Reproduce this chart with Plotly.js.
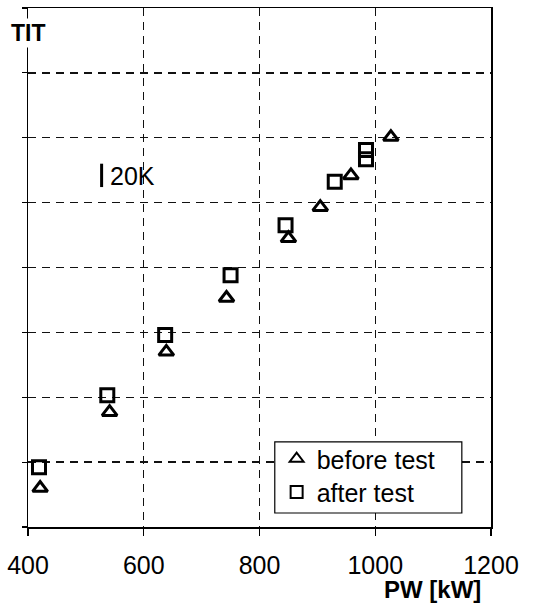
<!DOCTYPE html>
<html>
<head>
<meta charset="utf-8">
<script src="https://cdn.plot.ly/plotly-3.0.1.min.js"></script>
<style>html,body{margin:0;padding:0;background:#fff;}#chart{width:534px;height:603px;}</style>
</head>
<body>
<div id="chart"></div>
<script>
// PW [kW] and TIT (in gridline units; 20K scale bar shown)
const beforeX = [421, 541, 639, 743, 850, 905, 958, 1027];
const beforeY = [0.60, 1.77, 2.70, 3.53, 4.45, 4.93, 5.42, 6.01];
const afterX = [419, 537, 637, 750, 845, 930, 984, 984];
const afterY = [0.92, 2.03, 2.96, 3.88, 4.65, 5.32, 5.81, 5.67];
const xTicks = [400, 600, 800, 1000, 1200];
const yTicks = [0, 1, 2, 3, 4, 5, 6, 7, 8];

const FONT = '"Liberation Sans", Arial, Helvetica, sans-serif';

const traces = [
  {
    x: beforeX, y: beforeY, mode: 'markers', type: 'scatter', name: 'before test', legend: 'legend',
    marker: {symbol: 'triangle-up-open', size: 13, color: '#000', line: {width: 3, color: '#000'}}
  },
  {
    x: afterX, y: afterY, mode: 'markers', type: 'scatter', name: 'after test', legend: 'legend2',
    marker: {symbol: 'square-open', size: 13, color: '#000', line: {width: 3, color: '#000'}}
  }
];

const legendCommon = {
  xanchor: 'left', yanchor: 'middle',
  bgcolor: 'rgba(0,0,0,0)', borderwidth: 0,
  font: {family: FONT, size: 25, color: '#000'},
  itemsizing: 'constant', itemwidth: 30
};

const layout = {
  width: 534, height: 603,
  margin: {l: 28, r: 43, t: 8, b: 76},
  paper_bgcolor: '#fff', plot_bgcolor: '#fff',
  font: {family: FONT, color: '#000', size: 22},
  showlegend: true,
  legend: Object.assign({x: 0.537, y: 0.131}, legendCommon),
  legend2: Object.assign({x: 0.537, y: 0.067}, legendCommon),
  xaxis: {
    range: [400, 1200], tickvals: xTicks, ticktext: xTicks.map(String),
    showgrid: true, gridcolor: '#111', griddash: '8px,6px', gridwidth: 1.4,
    showline: true, linecolor: '#000', linewidth: 1.5, mirror: true,
    ticks: 'outside', ticklen: 7, tickcolor: '#000', tickwidth: 1.2,
    ticklabelstandoff: 8,
    tickfont: {family: FONT, size: 25, color: '#000'},
    zeroline: false, fixedrange: true
  },
  yaxis: {
    range: [0, 8], tickvals: yTicks, showticklabels: false,
    showgrid: true, gridcolor: '#111', griddash: '8px,6px', gridwidth: 1.4,
    showline: true, linecolor: '#000', linewidth: 1.5, mirror: true,
    ticks: 'outside', ticklen: 5, tickcolor: '#000', tickwidth: 1.2,
    zeroline: false, fixedrange: true
  },
  shapes: [
    {type: 'line', xref: 'paper', yref: 'paper', x0: 0.159, x1: 0.159, y0: 0.655, y1: 0.70,
     line: {color: '#000', width: 3}},
    {type: 'rect', xref: 'paper', yref: 'paper', x0: 0.533, x1: 0.937, y0: 0.027, y1: 0.164,
     layer: 'above', fillcolor: '#fff', line: {color: '#000', width: 1.2}}
  ],
  annotations: [
    {text: '<b>TIT</b>', xref: 'paper', yref: 'paper', x: 0.0, y: 0.952, xanchor: 'center', yanchor: 'middle',
     showarrow: false, font: {family: FONT, size: 23, color: '#000'}, bgcolor: '#fff'},
    {text: '20K', xref: 'paper', yref: 'paper', x: 0.172, y: 0.677, xanchor: 'left', yanchor: 'middle',
     showarrow: false, font: {family: FONT, size: 25, color: '#000'}},
    {text: '<b>PW [kW]</b>', xref: 'paper', yref: 'paper', x: 0.982, y: -0.121, xanchor: 'right', yanchor: 'middle',
     showarrow: false, font: {family: FONT, size: 24, color: '#000'}}
  ]
};

Plotly.newPlot('chart', traces, layout, {displayModeBar: false, staticPlot: true});
</script>
</body>
</html>
